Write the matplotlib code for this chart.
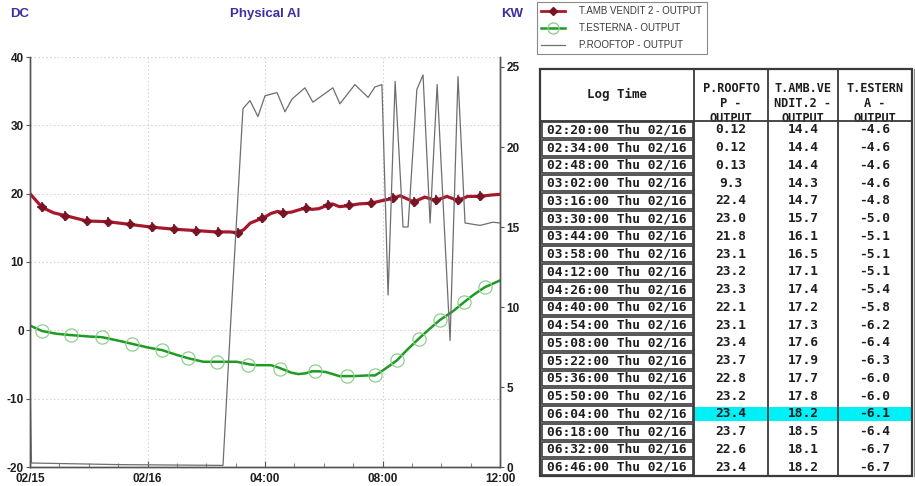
import numpy as np
import matplotlib
matplotlib.use("Agg")
import matplotlib.pyplot as plt
from matplotlib.lines import Line2D
from matplotlib.patches import Rectangle

# ---------------- data ----------------
# hours relative to 00:00 of 02/16 (x axis runs 20:00 02/15 .. 12:00 02/16)
red_hours = [-4.0, -3.59, -3.2, -2.81, -2.06, -1.35, -0.6, 0.15, 0.9, 1.65, 2.33, 2.57, 2.8, 3.03,
             3.27, 3.5, 3.73, 3.97, 4.2, 4.43, 4.67, 4.9, 5.13, 5.37, 5.6, 5.83, 6.07, 6.3, 6.53,
             6.77, 7.2, 7.61, 8.0, 8.36, 8.6, 9.07, 9.44, 9.82, 10.19, 10.57, 10.9, 11.32, 11.7, 12.0]
red_vals = [20.0, 18.0, 17.2, 16.8, 16.0, 15.9, 15.5, 15.1, 14.8, 14.6, 14.4, 14.4, 14.4, 14.3,
            14.7, 15.7, 16.1, 16.5, 17.1, 17.4, 17.2, 17.3, 17.6, 17.9, 17.7, 17.8, 18.2, 18.5, 18.1,
            18.2, 18.5, 18.6, 19.0, 19.3, 19.7, 18.8, 19.5, 19.0, 19.6, 19.0, 19.6, 19.6, 19.8, 19.9]
red_mark_hours = [-3.59, -2.81, -2.06, -1.35, -0.6, 0.15, 0.9, 1.65, 2.4, 3.08, 3.9, 4.61, 5.39,
                  6.14, 6.86, 7.61, 8.36, 9.07, 9.82, 10.57, 11.32]
red_mark_vals = [18.0, 16.8, 16.0, 15.9, 15.5, 15.1, 14.8, 14.6, 14.4, 14.3, 16.4, 17.2, 17.9,
                 18.3, 18.3, 18.6, 19.3, 18.8, 19.0, 19.0, 19.6]

green_hours = [-4.0, -3.59, -3.1, -2.6, -2.0, -1.55, -1.0, -0.5, 0.0, 0.5, 1.0, 1.4, 1.9, 2.33,
               2.57, 2.8, 3.03, 3.27, 3.5, 3.73, 3.97, 4.2, 4.43, 4.67, 4.9, 5.13, 5.37, 5.6, 5.83,
               6.07, 6.3, 6.53, 6.77, 7.0, 7.5, 7.74, 7.9, 8.2, 8.49, 8.85, 9.24, 9.6, 9.95, 10.4,
               10.77, 11.1, 11.48, 12.0]
green_vals = [0.7, -0.1, -0.5, -0.7, -0.9, -1.0, -1.5, -2.0, -2.5, -2.9, -3.6, -4.1, -4.6, -4.6,
              -4.6, -4.6, -4.6, -4.8, -5.0, -5.1, -5.1, -5.1, -5.4, -5.8, -6.2, -6.4, -6.3, -6.0, -6.0,
              -6.1, -6.4, -6.7, -6.7, -6.7, -6.6, -6.6, -6.2, -5.3, -4.4, -2.8, -1.2, 0.2, 1.5, 2.8,
              4.1, 5.2, 6.3, 7.3]
green_mark_hours = [-3.59, -2.61, -1.55, -0.53, 0.49, 1.37, 2.36, 3.42, 4.5, 5.7, 6.78, 7.74,
                    8.49, 9.24, 9.95, 10.77, 11.48]
green_mark_vals = [-0.1, -0.7, -1.0, -2.0, -2.9, -4.1, -4.7, -5.0, -5.6, -6.0, -6.7, -6.6,
                   -4.4, -1.2, 1.5, 4.1, 6.3]

gray_hours = [-4.0, -3.95, -1.0, 2.57, 2.84, 3.25, 3.49, 3.76, 4.0, 4.41, 4.68, 4.92, 5.36, 5.63,
              6.31, 6.55, 7.06, 7.51, 7.74, 7.98, 8.19, 8.43, 8.70, 8.87, 9.17, 9.38, 9.62, 9.86,
              10.30, 10.57, 10.81, 11.32, 11.76, 12.0]
gray_vals = [5.5, 0.25, 0.15, 0.1, 9.3, 22.4, 22.9, 21.9, 23.2, 23.4, 22.2, 23.0, 23.7, 22.8,
             23.7, 22.7, 23.9, 23.1, 23.75, 23.9, 10.75, 24.1, 15.0, 15.0, 23.6, 24.5, 15.25, 23.9,
             7.9, 24.4, 15.25, 15.1, 15.3, 15.25]

series_names = ["T.AMB VENDIT 2 - OUTPUT", "T.ESTERNA - OUTPUT", "P.ROOFTOP - OUTPUT"]
x_tick_hours = [-4, 0, 4, 8, 12]
x_tick_labels = ["02/15", "02/16", "04:00", "08:00", "12:00"]
left_ticks = [-20, -10, 0, 10, 20, 30, 40]
right_ticks = [0, 5, 10, 15, 20, 25]

table_headers = ["Log Time", "P.ROOFTO\nP -\nOUTPUT", "T.AMB.VE\nNDIT.2 -\nOUTPUT", "T.ESTERN\nA -\nOUTPUT"]
log_times = ["02:20:00 Thu 02/16", "02:34:00 Thu 02/16", "02:48:00 Thu 02/16", "03:02:00 Thu 02/16",
             "03:16:00 Thu 02/16", "03:30:00 Thu 02/16", "03:44:00 Thu 02/16", "03:58:00 Thu 02/16",
             "04:12:00 Thu 02/16", "04:26:00 Thu 02/16", "04:40:00 Thu 02/16", "04:54:00 Thu 02/16",
             "05:08:00 Thu 02/16", "05:22:00 Thu 02/16", "05:36:00 Thu 02/16", "05:50:00 Thu 02/16",
             "06:04:00 Thu 02/16", "06:18:00 Thu 02/16", "06:32:00 Thu 02/16", "06:46:00 Thu 02/16"]
col_rooftop = ["0.12", "0.12", "0.13", "9.3", "22.4", "23.0", "21.8", "23.1", "23.2", "23.3",
               "22.1", "23.1", "23.4", "23.7", "22.8", "23.2", "23.4", "23.7", "22.6", "23.4"]
col_amb = ["14.4", "14.4", "14.4", "14.3", "14.7", "15.7", "16.1", "16.5", "17.1", "17.4",
           "17.2", "17.3", "17.6", "17.9", "17.7", "17.8", "18.2", "18.5", "18.1", "18.2"]
col_est = ["-4.6", "-4.6", "-4.6", "-4.6", "-4.8", "-5.0", "-5.1", "-5.1", "-5.1", "-5.4",
           "-5.8", "-6.2", "-6.4", "-6.3", "-6.0", "-6.0", "-6.1", "-6.4", "-6.7", "-6.7"]
highlight_row = "06:04:00 Thu 02/16"

# ---------------- styling ----------------
RED = "#a8182c"
RED_M = "#7a1424"
GREEN = "#1f9a22"
GREEN_M = "#8fd08f"
GRAY = "#6e6e6e"
TITLE_C = "#3b2fa3"
TXT = "#1e1e1e"
plt.rcParams["font.family"] = ["Liberation Sans", "DejaVu Sans"]
plt.rcParams["axes.unicode_minus"] = False

W, H = 915, 486
fig = plt.figure(figsize=(W / 100, H / 100), dpi=100)
fig.patch.set_facecolor("white")

L, R, T, B = 30, 500, 57, 467
ax = fig.add_axes([L / W, 1 - B / H, (R - L) / W, (B - T) / H])
ax.set_xlim(-4, 12)
ax.set_ylim(-20, 40)
ax2 = ax.twinx()
ax2.set_ylim(0, 25 * (B - T) / 400)

# grid
ax.set_yticks(left_ticks)
ax.set_xticks(x_tick_hours)
ax.set_xticklabels(x_tick_labels)
ax.set_xticks(np.arange(-4, 13, 1), minor=True)
ax.grid(True, which="major", color="#d6d6d6", linestyle=(0, (1.5, 2.0)), linewidth=0.8)
ax.set_axisbelow(True)

for a in (ax, ax2):
    a.spines["top"].set_visible(False)
    for sp in ["left", "right", "bottom"]:
        a.spines[sp].set_color("#555555")
        a.spines[sp].set_linewidth(1.0)

ax.tick_params(axis="y", which="major", length=3, width=0.8, color="#555555",
               labelsize=8.5, labelcolor=TXT, pad=1.5)
ax.tick_params(axis="x", which="minor", direction="in", length=3, width=0.8, color="#888888")
ax.tick_params(axis="x", which="major", direction="in", length=4, width=0.8, color="#555555",
               labelsize=8.5, labelcolor=TXT, pad=4.0)
for lab in ax.get_xticklabels() + ax.get_yticklabels():
    lab.set_fontweight("bold")

ax2.set_yticks(right_ticks)
ax2.tick_params(axis="y", length=3, width=0.8, color="#555555", labelsize=8.5, labelcolor=TXT, pad=1.5)
for lab in ax2.get_yticklabels():
    lab.set_fontweight("bold")

# series
ax.plot(green_hours, green_vals, color=GREEN, lw=1.8, zorder=3)
ax.plot(green_mark_hours, green_mark_vals, linestyle="none", marker="o", markersize=9.5,
        markerfacecolor="none", markeredgecolor=GREEN_M, markeredgewidth=0.9, zorder=4)
ax.plot(red_hours, red_vals, color=RED, lw=2.3, zorder=5)
ax.plot(red_mark_hours, red_mark_vals, linestyle="none", marker="D", markersize=4.2,
        color=RED_M, zorder=6)
ax.plot(red_mark_hours, red_mark_vals, linestyle="none", marker="+", markersize=7,
        markeredgewidth=1.2, color=RED_M, zorder=6)
ax2.plot(gray_hours, gray_vals, color=GRAY, lw=0.9, zorder=2)

# axis captions
fig.text(10 / W, 1 - 14 / H, "DC", fontsize=9.5, fontweight="bold", color=TITLE_C, va="center", ha="left")
fig.text(265 / W, 1 - 14 / H, "Physical AI", fontsize=9.5, fontweight="bold", color=TITLE_C, va="center", ha="center")
fig.text(512 / W, 1 - 14 / H, "KW", fontsize=9.5, fontweight="bold", color=TITLE_C, va="center", ha="center")

# legend
handles = [
    Line2D([], [], color=RED, lw=2.0, marker="D", markersize=4, markerfacecolor=RED_M, markeredgecolor=RED_M),
    Line2D([], [], color=GREEN, lw=1.8, marker="o", markersize=8, markerfacecolor="none",
           markeredgecolor=GREEN_M),
    Line2D([], [], color=GRAY, lw=0.9),
]
leg = fig.legend(handles, series_names, loc="upper left", bbox_to_anchor=(537 / W, 1 - 2 / H),
                 borderaxespad=0, fontsize=7.0, frameon=True, fancybox=False, edgecolor="#8a8a8a",
                 framealpha=1, handlelength=2.4, handletextpad=1.5, labelspacing=0.7,
                 borderpad=0.45)
leg.get_frame().set_linewidth(0.8)
for t in leg.get_texts():
    t.set_color("#3a3a3a")

# ---------------- table ----------------
tab = fig.add_axes([0, 0, 1, 1], zorder=10)
tab.set_xlim(0, W)
tab.set_ylim(H, 0)
tab.axis("off")

cols = [540, 694, 768, 838, 912]
top, hdr_bot, row_h = 69, 121, 17.75
n = len(log_times)
bottom = hdr_bot + n * row_h
MONO = dict(family=["DejaVu Sans Mono"], fontweight="bold", color=TXT)
EDGE = "#3a3a3a"

# highlight
for i, t in enumerate(log_times):
    if t == highlight_row:
        tab.add_patch(Rectangle((cols[1] + 1, hdr_bot + i * row_h + 1.5), cols[4] - cols[1] - 1,
                                row_h - 3, facecolor="#00f0f8", edgecolor="none", zorder=1))

# outer frame and column lines
tab.add_patch(Rectangle((cols[0], top), cols[4] - cols[0], bottom - top, facecolor="none",
                        edgecolor=EDGE, lw=1.6, zorder=3))
tab.plot([cols[4] + 2, cols[4] + 2], [top, bottom], color="#888888", lw=0.8)
for cx in cols[1:4]:
    tab.plot([cx, cx], [top, bottom], color=EDGE, lw=1.3, zorder=3)
tab.plot([cols[0], cols[4]], [hdr_bot, hdr_bot], color=EDGE, lw=1.3, zorder=3)

# header text
tab.text((cols[0] + cols[1]) / 2, 94, table_headers[0], ha="center", va="center", fontsize=9.0, **MONO)
for j in range(1, 4):
    lines = table_headers[j].split("\n")
    cx = (cols[j] + cols[j + 1]) / 2
    for k, ln in enumerate(lines):
        tt = tab.text(cx, 89 + k * 14.5, ln, ha="center", va="center", fontsize=8.6, zorder=2, **MONO)
        clip = Rectangle((cols[j], top), cols[j + 1] - cols[j], hdr_bot - top - 1.5,
                         transform=tab.transData, facecolor="none", edgecolor="none")
        tt.set_clip_path(clip)

# rows
for i in range(n):
    y0 = hdr_bot + i * row_h
    yc = y0 + row_h / 2
    tab.add_patch(Rectangle((cols[0] + 1.5, y0 + 1), cols[1] - cols[0] - 3, row_h - 2,
                            facecolor="none", edgecolor=EDGE, lw=1.2, zorder=3))
    tab.text((cols[0] + cols[1]) / 2, yc, log_times[i], ha="center", va="center", fontsize=9.3, **MONO)
    for j, col in zip(range(1, 4), (col_rooftop, col_amb, col_est)):
        tab.text((cols[j] + cols[j + 1]) / 2, yc, col[i], ha="center", va="center", fontsize=9.3,
                 zorder=4, **MONO)

fig.savefig("out.png", dpi=100, facecolor="white")
